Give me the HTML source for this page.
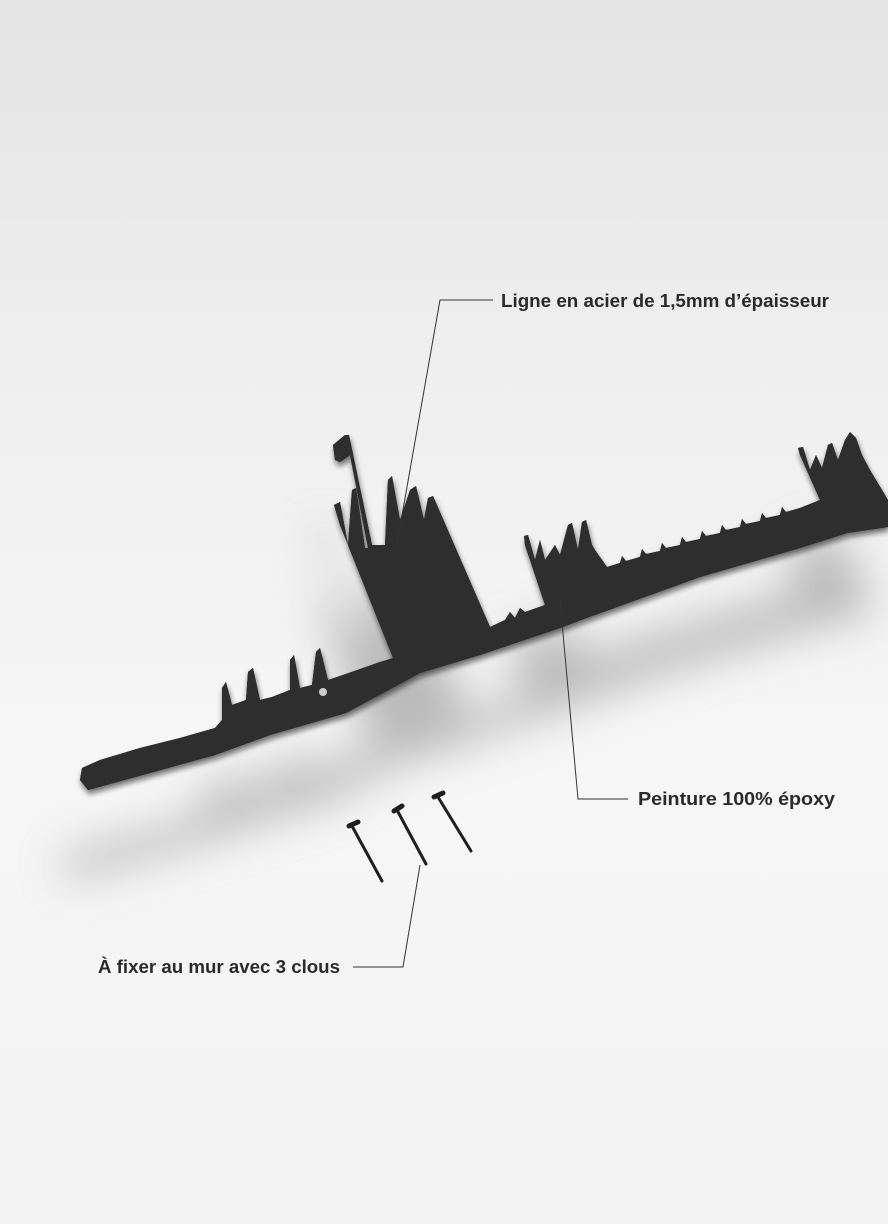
<!DOCTYPE html>
<html><head><meta charset="utf-8"><style>
html,body{margin:0;padding:0}
body{width:888px;height:1224px;overflow:hidden;background:linear-gradient(180deg,#e4e4e4 0%,#efefef 30%,#f6f6f6 60%,#f4f4f4 100%);font-family:"Liberation Sans",sans-serif}
svg{position:absolute;left:0;top:0}
</style></head><body>
<svg width="888" height="1224" viewBox="0 0 888 1224">
<defs>
<filter id="sh" x="-20%" y="-50%" width="140%" height="200%"><feGaussianBlur stdDeviation="22"/></filter>
<filter id="sh2" x="-20%" y="-50%" width="140%" height="200%"><feGaussianBlur stdDeviation="3"/></filter>
</defs>
<g id="sk">
<polygon id="shape" points="82,768 100,760 140,748 180,738 215,728 222,720 222,688 226,682 232,705 246,700 248,672 253,668 260,700 272,697 290,690 290,660 294,655 300,688 312,685 316,652 320,648 328,680 340,676 380,662 393,658 340,525 334,505 340,502 348,545 352,490 356,488 365,548 368,548 350,455 340,462 335,460 333,445 345,435 349,435 372,545 385,545 388,480 392,476 400,520 410,490 416,486 424,520 428,498 433,496 490,627 505,620 510,612 515,618 520,608 525,612 545,605 525,545 524,536 528,535 535,560 540,540 545,560 555,545 560,555 568,525 572,523 578,550 582,522 586,520 592,545 595,550 607,567 620,563 622,556 626,561 640,557 642,549 646,554 660,551 662,543 666,548 680,545 682,537 686,542 700,539 702,531 706,536 720,533 722,525 726,530 740,527 742,519 746,524 760,521 762,513 766,518 780,515 782,507 786,512 800,508 820,500 800,455 798,448 803,447 810,470 816,455 822,468 828,445 832,443 838,460 845,440 850,432 856,438 862,455 870,470 888,500 888,527 847,533 800,548 700,577 581,620 560,628 480,655 420,673 346,713 270,735 215,755 150,773 88,790 80,780"/>
</g>
<use href="#shape" transform="translate(-20,90)" fill="#8a8a8a" opacity="0.55" filter="url(#sh)"/>
<use href="#shape" transform="translate(1,4)" fill="#111" filter="url(#sh2)" opacity="0.6"/>
<use href="#shape" fill="#2e2e2e"/>
<circle cx="323" cy="692" r="4" fill="#ccc"/>
<g stroke="#1e1e1e" stroke-linecap="round">
<line x1="352" y1="826" x2="382" y2="881" stroke-width="3"/>
<line x1="349" y1="826" x2="358" y2="822" stroke-width="5"/>
<line x1="397" y1="810" x2="426" y2="864" stroke-width="3"/>
<line x1="394" y1="811" x2="402" y2="806" stroke-width="5"/>
<line x1="438" y1="797" x2="471" y2="851" stroke-width="3"/>
<line x1="434" y1="797" x2="443" y2="793" stroke-width="5"/>
</g>
<g stroke="#333" stroke-width="1" fill="none">
<polyline points="493,300 440,300 395,555"/>
<polyline points="628,799 578,799 560,600"/>
<polyline points="353,967 403,967 420,865"/>
</g>
<g font-family="Liberation Sans, sans-serif" font-size="18" font-weight="bold" fill="#2a2a2a">
<text x="501" y="307" textLength="328" lengthAdjust="spacingAndGlyphs">Ligne en acier de 1,5mm d’épaisseur</text>
<text x="638" y="805" textLength="197" lengthAdjust="spacingAndGlyphs">Peinture 100% époxy</text>
<text x="98" y="973" textLength="242" lengthAdjust="spacingAndGlyphs">À fixer au mur avec 3 clous</text>
</g>
</svg>
</body></html>
